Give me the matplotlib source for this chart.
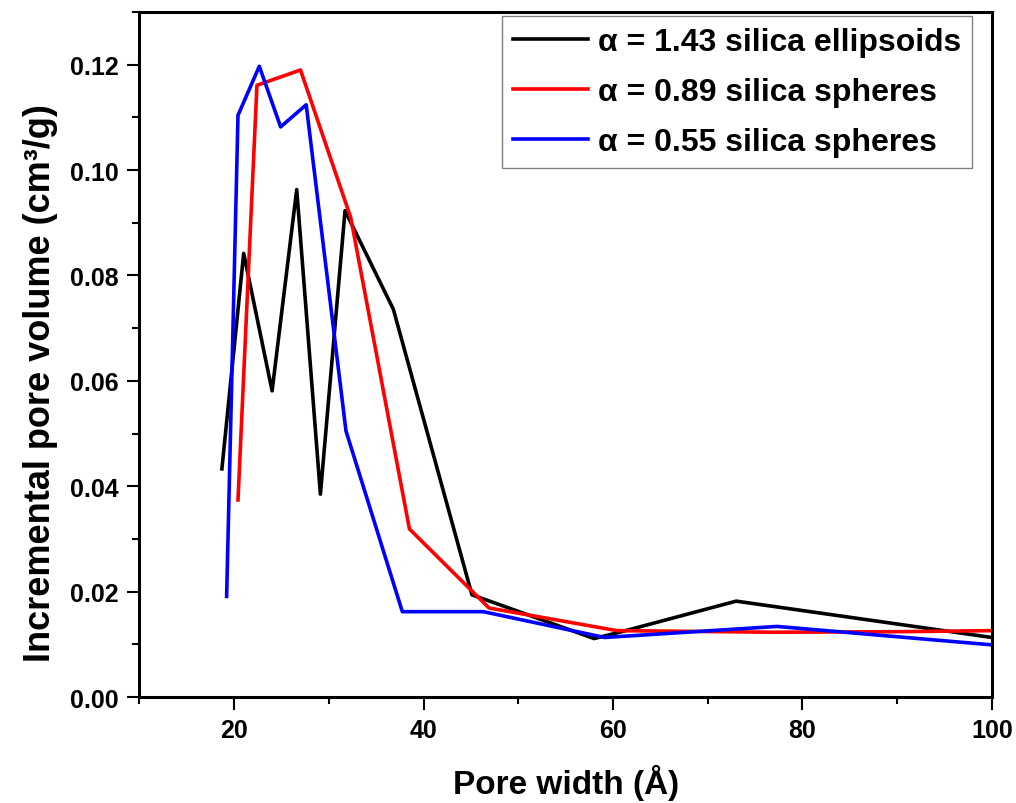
import matplotlib
matplotlib.use("Agg")
import matplotlib.pyplot as plt
from matplotlib.ticker import MultipleLocator

plt.rcParams['font.family'] = ['Liberation Sans', 'DejaVu Sans']
plt.rcParams['font.weight'] = 'bold'

# data
x_ellipsoids = [18.7, 21.0, 24.0, 26.6, 29.1, 31.7, 36.8, 45.1, 58.0, 60.7, 73.0, 100.0]
y_ellipsoids = [0.0433, 0.0842, 0.0581, 0.0963, 0.0385, 0.0923, 0.0736, 0.0194, 0.0111, 0.0123, 0.0182, 0.0113]

x_spheres_089 = [20.4, 22.4, 27.0, 32.3, 38.5, 46.9, 60.4, 77.0, 90.0, 100.0]
y_spheres_089 = [0.0374, 0.1161, 0.1190, 0.0910, 0.0319, 0.0169, 0.0126, 0.0123, 0.0124, 0.0126]

x_spheres_055 = [19.2, 20.4, 22.65, 24.9, 27.6, 31.8, 37.75, 46.3, 59.1, 77.3, 100.0]
y_spheres_055 = [0.0191, 0.1104, 0.1197, 0.1082, 0.1124, 0.0505, 0.0162, 0.0162, 0.0113, 0.0134, 0.0099]

labels = ['α = 1.43 silica ellipsoids',
          'α = 0.89 silica spheres',
          'α = 0.55 silica spheres']

fig = plt.figure(figsize=(10.16, 8.04), dpi=100)
ax = fig.add_axes([0.1373, 0.1318, 0.839, 0.852])

ax.plot(x_ellipsoids, y_ellipsoids, color='black', lw=2.6, label=labels[0])
ax.plot(x_spheres_089, y_spheres_089, color='red', lw=2.6, label=labels[1])
ax.plot(x_spheres_055, y_spheres_055, color='blue', lw=2.6, label=labels[2])

ax.set_xlim(10, 100)
ax.set_ylim(0, 0.13)
ax.xaxis.set_minor_locator(MultipleLocator(10))
ax.yaxis.set_minor_locator(MultipleLocator(0.01))
ax.set_yticks([0, 0.02, 0.04, 0.06, 0.08, 0.10, 0.12])
ax.set_yticklabels(['0.00', '0.02', '0.04', '0.06', '0.08', '0.10', '0.12'])
ax.set_xticks([20, 40, 60, 80, 100])

ax.tick_params(which='major', direction='out', length=9, width=1.5, labelsize=18, pad=6)
ax.tick_params(which='minor', direction='out', length=5, width=1.5)
for s in ax.spines.values():
    s.set_linewidth(2.2)

ax.set_xlabel('Pore width (Å)', fontsize=24, fontweight='bold', labelpad=16)
ax.set_ylabel('Incremental pore volume (cm³/g)', fontsize=26, fontweight='bold')
ax.yaxis.set_label_coords(-0.096, 0.46)

leg = ax.legend(loc='upper right', bbox_to_anchor=(972 / 1016, 1 - 17 / 804),
                bbox_transform=fig.transFigure, borderaxespad=0,
                fontsize=23, handlelength=2.35, labelspacing=0.62,
                fancybox=False, framealpha=1, edgecolor='gray',
                handletextpad=0.3, borderpad=0.35)
leg.get_frame().set_linewidth(1.0)

fig.savefig('out.png', dpi=100)
